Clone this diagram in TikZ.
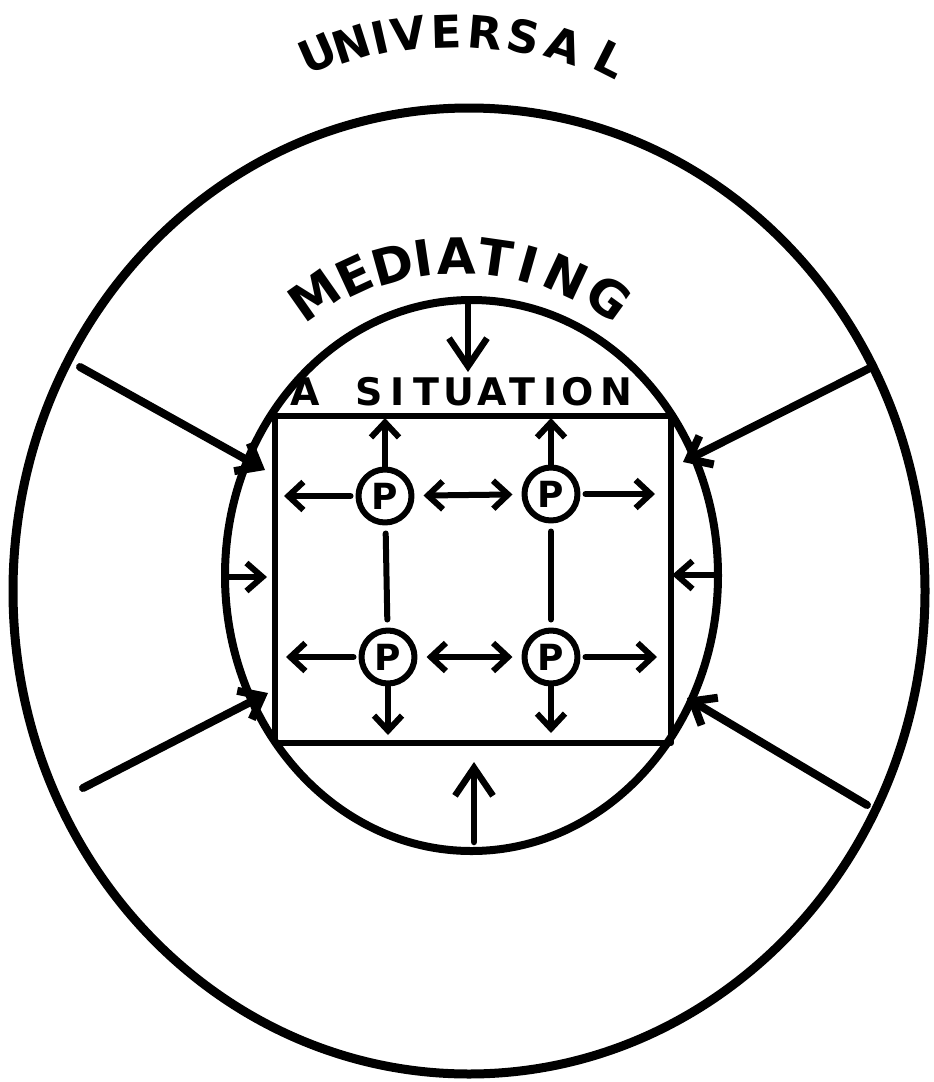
\documentclass[tikz,border=0pt]{standalone}
\usepackage{fontspec}
\setmainfont{DejaVu Sans}
\usetikzlibrary{arrows.meta}
\begin{document}
\begin{tikzpicture}[x=1pt,y=-1pt, line cap=round, line join=round,
  every node/.style={inner sep=0pt},
  bigtxt/.style={font=\fontsize{45}{54}\selectfont\bfseries},
  medtxt/.style={font=\fontsize{50}{60}\selectfont\bfseries},
  sittxt/.style={font=\fontsize{38}{46}\selectfont\bfseries},
  person/.style={circle, draw, line width=6pt, minimum size=53pt, font=\fontsize{36}{44}\selectfont\bfseries},
  arr/.style={line width=6pt, -{Straight Barb[length=15pt,width=28pt]}},
  darr/.style={line width=6pt, {Straight Barb[length=15pt,width=28pt]}-{Straight Barb[length=15pt,width=28pt]}},
  bigarr/.style={line width=8pt, -{Straight Barb[length=20pt,width=32pt]}},
  sidearr/.style={line width=6pt, -{Straight Barb[length=16pt,width=28pt]}},
  vertarr/.style={line width=6.5pt, -{Straight Barb[length=28pt,width=38pt]}},
]
\useasboundingbox (0,0) rectangle (934,1082);
\fill[white] (0,0) rectangle (934,1082);

% spheres
\draw[line width=9pt] (469,591) ellipse [x radius=456, y radius=483];
\draw[line width=8pt] (471.5,575.5) ellipse [x radius=246.5, y radius=275.5];
\node[draw, line width=6pt, minimum width=396pt, minimum height=327pt, anchor=north west] (sit) at (272,413) {};

% labels
\foreach \ch/\t [count=\i] in {U/-18.2,N/-13.7,I/-9.9,V/-6.2,E/-1.2,R/3.85,S/8.9,A/14.3,L/20.6}
  \node[bigtxt, rotate={-1.3*(\t)}] (u\i) at ({455.6+440*sin(\t)},{471.5-440*cos(\t)}) {\ch};
\foreach \ch/\t [count=\i] in {M/-30.5,E/-21.6,D/-13.5,I/-7.4,A/-0.6,T/7.1,I/13.8,N/21.7,G/31.2}
  \node[medtxt, rotate={-1.15*(\t)}] (m\i) at ({460+287*sin(\t)},{543-287*cos(\t)}) {\ch};
\foreach \ch/\x [count=\i] in {A/305,S/369,I/398,T/426,U/459,A/492,T/522,I/551,O/578,N/616}
  \node[sittxt] (s\i) at (\x,392) {\ch};

% persons
\node[person] (p1) at (385,496) {P};
\node[person] (p2) at (551,494) {P};
\node[person] (p3) at (388,657) {P};
\node[person] (p4) at (551,657) {P};

\coordinate (p1u) at (385,418);
\coordinate (p2u) at (551,418);
\coordinate (p1l) at (284,496);
\coordinate (p2r) at (655,494);
\coordinate (p3l) at (286,657);
\coordinate (p4r) at (657,657);
\coordinate (p3d) at (388,735);
\coordinate (p4d) at (551,733);

\draw[arr] (p1) -- (p1u);
\draw[arr] (p2) -- (p2u);
\draw[arr, shorten <=5pt] (p1) -- (p1l);
\draw[arr, shorten <=5pt] (p2) -- (p2r);
\draw[arr, shorten <=5pt] (p3) -- (p3l);
\draw[arr, shorten <=5pt] (p4) -- (p4r);
\draw[arr] (p3) -- (p3d);
\draw[arr] (p4) -- (p4d);
\draw[darr, shorten <=9pt, shorten >=9pt] (p1) -- (p2);
\draw[darr, shorten <=9pt, shorten >=9pt] (p3) -- (p4);
\draw[line width=6pt, shorten <=8pt, shorten >=8pt] (p1) -- (p3);
\draw[line width=6pt, shorten <=8pt, shorten >=8pt] (p2) -- (p4);

% influences from outside
\coordinate (ltS) at (80,367);  \coordinate (ltE) at (265,470);
\coordinate (lbS) at (83,788);  \coordinate (lbE) at (268,693);
\coordinate (rtS) at (870,368); \coordinate (rtE) at (683,462);
\coordinate (rbS) at (867,805); \coordinate (rbE) at (687,698);
\coordinate (lmS) at (224,577); \coordinate (lmE) at (267,577);
\coordinate (rmS) at (718,575); \coordinate (rmE) at (672,575);
\coordinate (tS) at (468,302);  \coordinate (tE) at (468,372);
\coordinate (bS) at (474,842);  \coordinate (bE) at (474,762);

\draw[bigarr] (ltS) -- (ltE);
\draw[bigarr] (lbS) -- (lbE);
\draw[bigarr] (rtS) -- (rtE);
\draw[bigarr] (rbS) -- (rbE);
\draw[sidearr] (lmS) -- (lmE);
\draw[sidearr] (rmS) -- (rmE);
\draw[vertarr] (tS) -- (tE);
\draw[vertarr] (bS) -- (bE);
\end{tikzpicture}
\end{document}
